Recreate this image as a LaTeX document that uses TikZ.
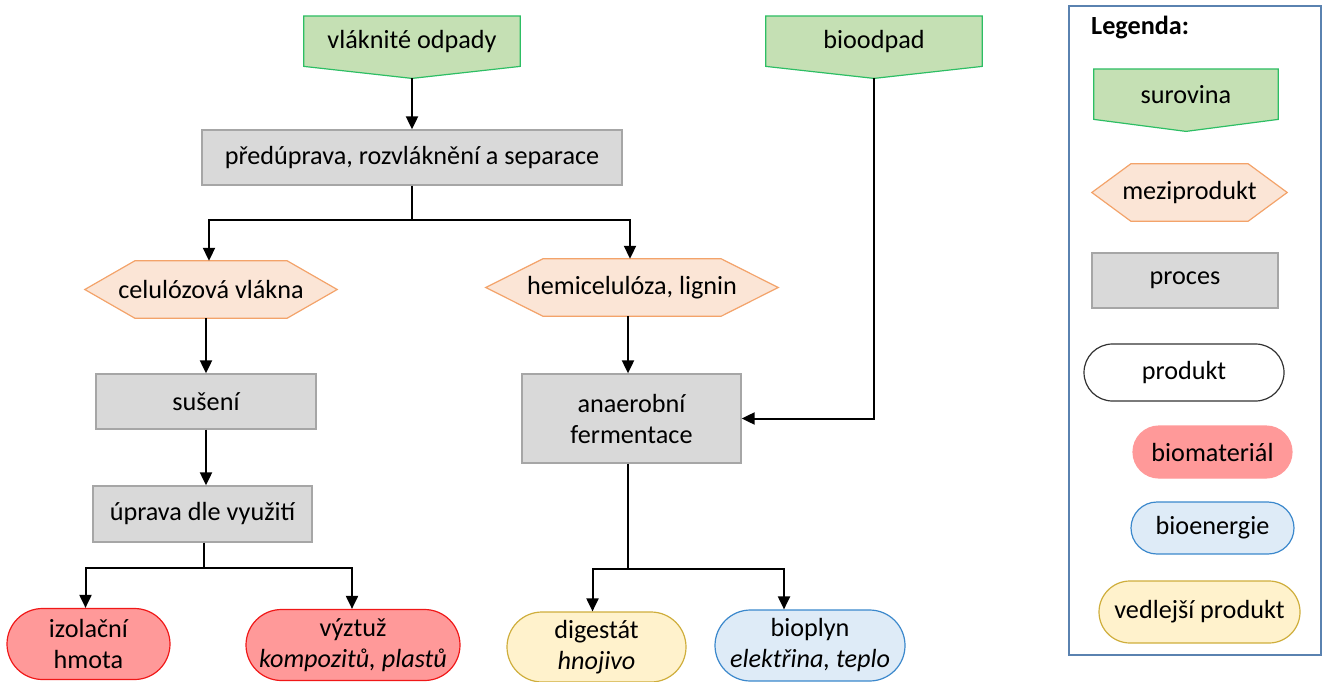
\documentclass[tikz,border=0pt]{standalone}
\usepackage{fontspec}
\setmainfont{Carlito}
\usetikzlibrary{shapes.misc,arrows.meta,calc}

\definecolor{surfill}{HTML}{C5E0B4}
\definecolor{surline}{HTML}{2DBE64}
\definecolor{mezfill}{HTML}{FBE5D6}
\definecolor{mezline}{HTML}{F3A36A}
\definecolor{profill}{HTML}{D9D9D9}
\definecolor{proline}{HTML}{A6A6A6}
\definecolor{bmfill}{HTML}{FF9999}
\definecolor{bmline}{HTML}{F01818}
\definecolor{befill}{HTML}{DEEBF7}
\definecolor{beline}{HTML}{3B88CC}
\definecolor{vpfill}{HTML}{FFF2CC}
\definecolor{vpline}{HTML}{CFAE3C}
\definecolor{legline}{HTML}{5A82B0}

\pgfdeclarelayer{background}
\pgfsetlayers{background,main}

% raw material outline: box with a flat point below
\newcommand{\surshape}[1]{%
  \filldraw[fill=surfill, draw=surline, line width=1.2pt]
    (#1.north west) -- (#1.north east) -- (#1.south east) -- (#1tip) -- (#1.south west) -- cycle;}
% intermediate product outline: hexagon
\newcommand{\hexshape}[2]{%
  \filldraw[fill=mezfill, draw=mezline, line width=1.2pt]
    (#1.west) -- ($(#1.north west)+(#2,0)$) -- ($(#1.north east)+(-#2,0)$) -- (#1.east)
    -- ($(#1.south east)+(-#2,0)$) -- ($(#1.south west)+(#2,0)$) -- cycle;}

\begin{document}
\begin{tikzpicture}[x=1pt,y=1pt,yscale=-1,
  every node/.style={font=\fontsize{26.2}{31}\selectfont, inner sep=0pt, align=center},
  surovina/.style={rectangle, minimum width=216, minimum height=50},
  mezi/.style={rectangle, minimum height=57},
  proces/.style={rectangle, fill=profill, draw=proline, line width=1.3pt},
  produkt/.style={rounded rectangle, line width=1.2pt},
  biomat/.style={produkt, fill=bmfill, draw=bmline},
  bioen/.style={produkt, fill=befill, draw=beline},
  vedl/.style={produkt, fill=vpfill, draw=vpline},
  conn/.style={line width=2pt, -{Triangle[length=13pt,width=12pt]}}
]
\useasboundingbox (0,0) rectangle (1324,682);

%Shape: Raw materials
\node[surovina, anchor=north] (odpady) at (412,16) {vláknité odpady};
\coordinate (odpadytip) at ($(odpady.south)+(0,12)$);
\node[surovina, anchor=north] (bioodpad) at (874,16) {bioodpad};
\coordinate (bioodpadtip) at ($(bioodpad.south)+(0,12)$);

%Shape: Processes
\node[proces, minimum width=420, minimum height=55] (predupr) at (412,157.5) {předúprava, rozvláknění a separace};
\node[proces, minimum width=220, minimum height=55] (suseni) at (206,401.5) {sušení};
\node[proces, minimum width=219, minimum height=89] (fermentace) at (631.5,418.5) {anaerobní\\fermentace};
\node[proces, minimum width=219, minimum height=56] (uprava) at (202.5,514) {úprava dle využití};

%Shape: Intermediate products
\node[mezi, minimum width=252] (celuloza) at (211,289.5) {celulózová vlákna};
\node[mezi, minimum width=292] (hemicel) at (632,287.5) {hemicelulóza, lignin};

%Shape: Products
\node[biomat, minimum width=163, minimum height=71] (izolace) at (88.5,644) {izolační\\hmota};
\node[biomat, minimum width=214, minimum height=71] (vyztuz) at (353,645) {výztuž\\\textit{kompozitů, plastů}};
\node[vedl, minimum width=179, minimum height=70] (digestat) at (596.5,647) {digestát\\\textit{hnojivo}};
\node[bioen, minimum width=190, minimum height=71] (bioplyn) at (810,645.5) {bioplyn\\\textit{elektřina, teplo}};

%Connections
\draw[conn] (odpadytip) -- (predupr.north);
\draw[conn] (predupr.south) -- ++(0,34) -| ([xshift=-2]celuloza.north);
\draw[conn] (predupr.south) ++(0,34) -| ([xshift=-2]hemicel.north);
\draw[conn] (suseni.north |- celuloza.south) -- (suseni.north);
\draw[conn] (suseni.south) -- (uprava.north -| suseni.south);
\draw[conn] ([xshift=-4]hemicel.south) -- ([xshift=-4]hemicel.south |- fermentace.north);
\draw[conn] (bioodpadtip) |- (fermentace.east);
\draw[conn] ([xshift=1.5]uprava.south) -- ++(0,25) -| ([xshift=-3]izolace.north);
\draw[conn] ([xshift=1.5]uprava.south) ++(0,25) -| ([xshift=-1]vyztuz.north);
\draw[conn] ([xshift=-3.5]fermentace.south) -- ++(0,105) -| ([xshift=-4]digestat.north);
\draw[conn] ([xshift=-3.5]fermentace.south) ++(0,105) -| ([xshift=-26]bioplyn.north);

%Legend
\node[draw=legline, line width=1.2pt, minimum width=252, minimum height=649] (legenda) at (1195,330.5) {};
\node[anchor=west] (legtitle) at (1091,28) {\textbf{Legenda:}};
\node[surovina, anchor=north, minimum width=184] (lsur) at (1186,69) {surovina};
\coordinate (lsurtip) at ($(lsur.south)+(0,12)$);
\node[mezi, minimum width=195] (lmez) at (1189.5,192.5) {meziprodukt};
\node[proces, minimum width=186, minimum height=55] (lproc) at (1185,280.5) {proces};
\node[produkt, draw=black!80, fill=white, minimum width=200, minimum height=57] (lprod) at (1184,372.5) {produkt};
\node[produkt, fill=bmfill, draw=bmfill, minimum width=159, minimum height=52] (lbiomat) at (1212.5,452) {biomateriál};
\node[bioen, minimum width=163, minimum height=52] (lbioen) at (1212.5,528) {bioenergie};
\node[vedl, minimum width=201, minimum height=62] (lvedl) at (1199.5,612) {vedlejší produkt};

%Outlines behind the texts
\begin{pgfonlayer}{background}
\surshape{odpady}
\surshape{bioodpad}
\surshape{lsur}
\hexshape{celuloza}{50}
\hexshape{hemicel}{57}
\hexshape{lmez}{39}
\end{pgfonlayer}
\end{tikzpicture}
\end{document}
